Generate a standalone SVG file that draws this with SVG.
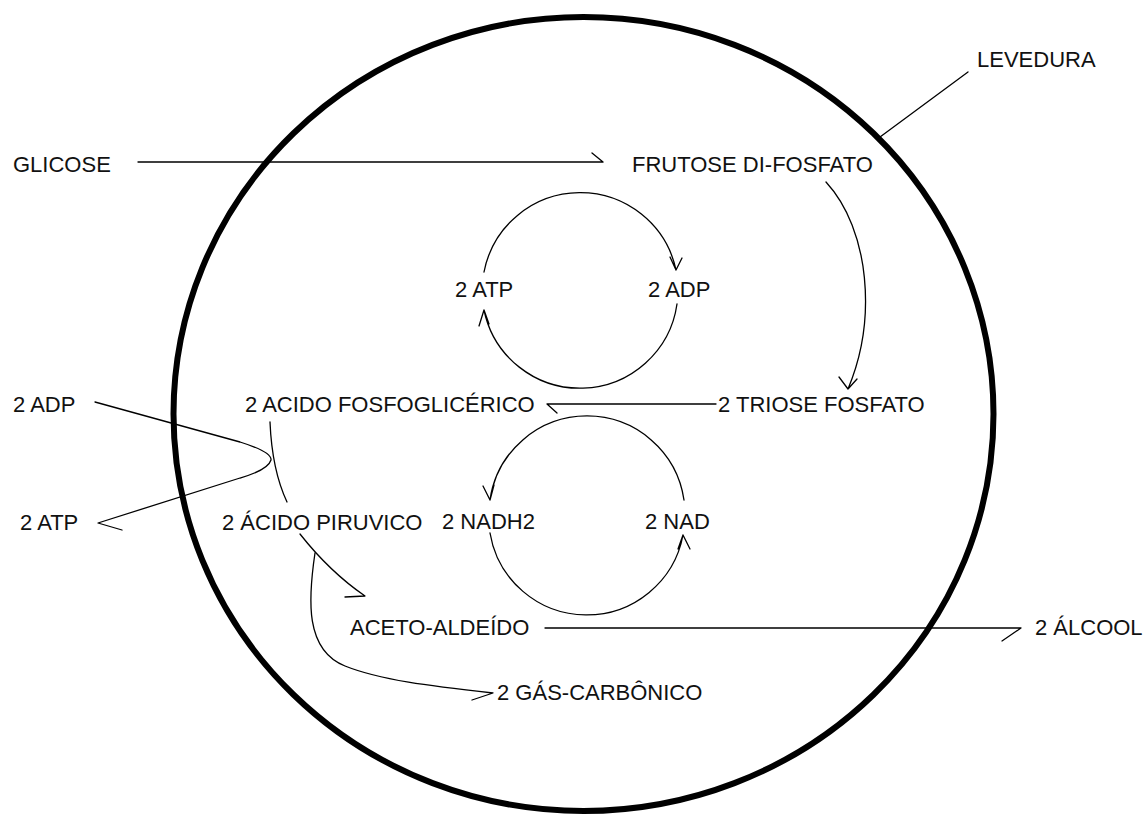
<svg xmlns="http://www.w3.org/2000/svg" width="1144" height="814" viewBox="0 0 1144 814">
<style>
text{font-family:"Liberation Sans",Arial,sans-serif;font-size:22px;fill:#111}
.c{fill:none;stroke:#000;stroke-width:1.3;stroke-linecap:round;stroke-linejoin:round}
.cell{fill:none;stroke:#000;stroke-width:6}
</style>
<rect width="1144" height="814" fill="#fff"/>
<g id="levedura">
<ellipse class="cell" cx="583.5" cy="414" rx="410" ry="397"/>
<text x="977" y="67">LEVEDURA</text>
</g>
<g id="glicose"><text x="13" y="172">GLICOSE</text></g>
<g id="frutose"><text x="632" y="172">FRUTOSE DI-FOSFATO</text></g>
<g id="atp-top"><text x="455" y="297">2 ATP</text></g>
<g id="adp-top"><text x="648" y="297">2 ADP</text></g>
<g id="fosfoglicerico"><text x="245" y="412">2 ACIDO FOSFOGLICÉRICO</text></g>
<g id="triose"><text x="718" y="412">2 TRIOSE FOSFATO</text></g>
<g id="adp-left"><text x="13" y="412">2 ADP</text></g>
<g id="atp-left"><text x="20" y="530">2 ATP</text></g>
<g id="piruvico"><text x="222" y="530">2 ÁCIDO PIRUVICO</text></g>
<g id="nadh2"><text x="442" y="529">2 NADH2</text></g>
<g id="nad"><text x="645" y="529">2 NAD</text></g>
<g id="aceto"><text x="350" y="635">ACETO-ALDEÍDO</text></g>
<g id="alcool"><text x="1035" y="635">2 ÁLCOOL</text></g>
<g id="gas"><text x="497" y="700">2 GÁS-CARBÔNICO</text></g>
<g id="connectors">
<path class="c" d="M968,72 L880,137"/>
<path class="c" d="M138,162 L603,162 M592,153 L603,162"/>
<path class="c" d="M826,182 C870,230 877,320 848,389 M839,377 L848,389 L857,379"/>
<path class="c" d="M484,272 A98,98 0 0 1 676,270 M670,257 L676,270 L682,258"/>
<path class="c" d="M677,304 A98,98 0 0 1 484,310 M479,326 L484,310 L489,324"/>
<path class="c" d="M716,404 L547,404 L557,413"/>
<path class="c" d="M684,500 A98,98 0 0 0 490,500 M483,486 L490,500 L494,485"/>
<path class="c" d="M490,533 A98,98 0 0 0 683,535 M678,549 L683,535 L690,549"/>
<path class="c" d="M270,422 Q272,470 287,502"/>
<path class="c" d="M95,402 L240,442 Q272,452 271,460 Q268,470 240,478 L98,523 L122,530"/>
<path class="c" d="M300,534 Q330,572 365,596 L345,597"/>
<path class="c" d="M315,553 C308,600 305,650 345,666 C380,680 430,686 493,693 L472,700"/>
<path class="c" d="M545,628 L1021,628 L1002,641"/>
</g>
</svg>
